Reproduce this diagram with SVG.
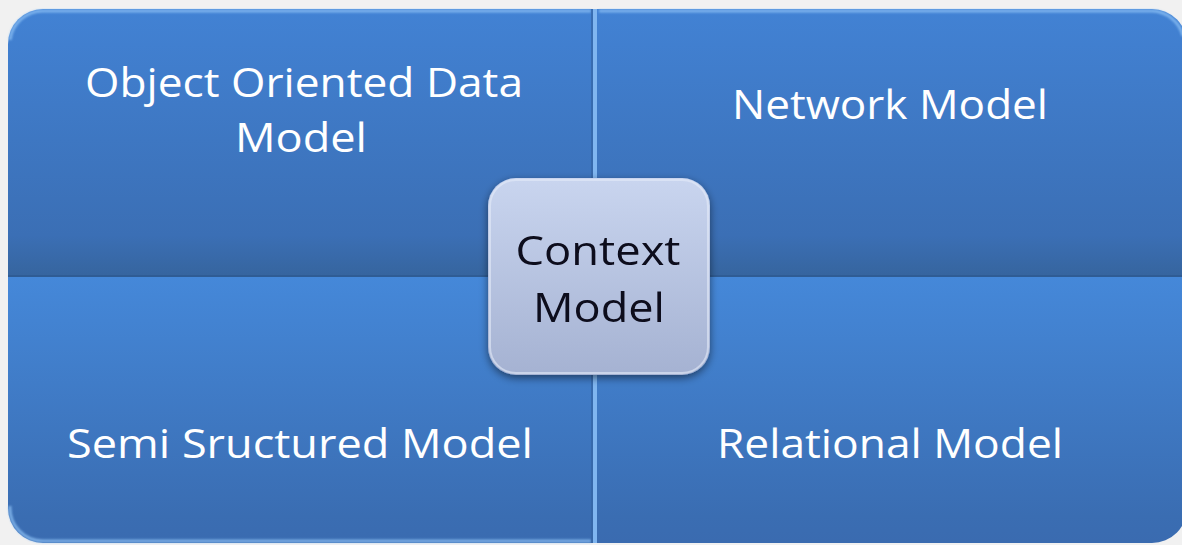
<svg xmlns="http://www.w3.org/2000/svg" width="1182" height="545" viewBox="0 0 1182 545">
  <defs>
    <linearGradient id="gTop" x1="0" y1="0" x2="0" y2="1">
      <stop offset="0" stop-color="#4282d4"/>
      <stop offset="0.85" stop-color="#3b6fb5"/>
      <stop offset="1" stop-color="#36659f"/>
    </linearGradient>
    <linearGradient id="gBot" x1="0" y1="0" x2="0" y2="1">
      <stop offset="0" stop-color="#4588d9"/>
      <stop offset="0.9" stop-color="#3a6db2"/>
      <stop offset="1" stop-color="#3a6bb0"/>
    </linearGradient>
    <linearGradient id="gCenter" x1="0" y1="0" x2="0" y2="1">
      <stop offset="0" stop-color="#c9d5ef"/>
      <stop offset="1" stop-color="#a5b2d2"/>
    </linearGradient>
    <filter id="shadow" x="-20%" y="-20%" width="140%" height="140%">
      <feGaussianBlur in="SourceAlpha" stdDeviation="4"/>
      <feOffset dx="0" dy="3" result="b"/>
      <feComponentTransfer><feFuncA type="linear" slope="0.5"/></feComponentTransfer>
      <feMerge><feMergeNode/><feMergeNode in="SourceGraphic"/></feMerge>
    </filter>
    <filter id="soft"><feGaussianBlur stdDeviation="1.2"/></filter>
  </defs>
  <style>
    .q { stroke: none; }
    .lbl { font-family: "Open Sans", "Noto Sans", "DejaVu Sans", sans-serif; font-size: 40px; fill: #ffffff; }
    .clbl { font-family: "Open Sans", "Noto Sans", "DejaVu Sans", sans-serif; font-size: 41px; fill: #0a0a1a; }
    .hl { fill: none; stroke: #8cc0f4; stroke-width: 3; opacity: 0.8; }
    .sh { fill: none; stroke: #2b5286; stroke-width: 3; opacity: 0.7; }
  </style>
  <rect width="1182" height="545" fill="#f1f1f1"/>

  <g id="connectors"/>

  <g id="node-object-oriented">
    <path class="q" fill="url(#gTop)" d="M8,44 A35,35 0 0 1 43,9 H593 V275 H8 Z"/>
    <path class="hl" d="M10,40 A33,33 0 0 1 43,11 H591" filter="url(#soft)"/>
    <path class="sh" d="M8,273 H593" filter="url(#soft)"/>
    <text class="lbl" x="304" y="97" text-anchor="middle" textLength="438" lengthAdjust="spacingAndGlyphs">Object Oriented Data</text>
    <text class="lbl" x="301" y="152" text-anchor="middle" textLength="132" lengthAdjust="spacingAndGlyphs">Model</text>
  </g>

  <g id="node-network">
    <path class="q" fill="url(#gTop)" d="M597,9 H1152 A35,35 0 0 1 1187,44 V275 H597 Z"/>
    <path class="hl" d="M599,11 H1152 A33,33 0 0 1 1183,36" filter="url(#soft)"/>
    <path class="sh" d="M597,273 H1187" filter="url(#soft)"/>
    <text class="lbl" x="890" y="119" text-anchor="middle" textLength="316" lengthAdjust="spacingAndGlyphs">Network Model</text>
  </g>

  <g id="node-semi-structured">
    <path class="q" fill="url(#gBot)" d="M8,277 H593 V543 H43 A35,35 0 0 1 8,508 Z"/>
    <path class="hl" d="M10,506 A33,33 0 0 0 43,541 H591" filter="url(#soft)"/>
    <text class="lbl" x="300" y="458" text-anchor="middle" textLength="466" lengthAdjust="spacingAndGlyphs">Semi Sructured Model</text>
  </g>

  <g id="node-relational">
    <path class="q" fill="url(#gBot)" d="M597,277 H1187 V508 A35,35 0 0 1 1152,543 H597 Z"/>
    <path class="hl" d="M599,541 H1152" filter="url(#soft)"/>
    <text class="lbl" x="890" y="458" text-anchor="middle" textLength="346" lengthAdjust="spacingAndGlyphs">Relational Model</text>
  </g>

  <g id="dividers">
    <rect x="593" y="9" width="4" height="534" fill="#80b6f0"/>
    <rect x="591" y="9" width="2" height="534" fill="#3465a4" opacity="0.7"/>
    <rect x="8" y="275" width="1179" height="2" fill="#2f5c94"/>
  </g>

  <g id="node-context" filter="url(#shadow)">
    <rect x="488" y="178" width="222" height="197" rx="28" ry="28" fill="url(#gCenter)"/>
    <rect x="490" y="180" width="218" height="193" rx="26" ry="26" fill="none" stroke="#e4ebf8" stroke-width="2" opacity="0.6"/>
    <text class="clbl" x="598" y="265" text-anchor="middle" textLength="165" lengthAdjust="spacingAndGlyphs">Context</text>
    <text class="clbl" x="599" y="322" text-anchor="middle" textLength="132" lengthAdjust="spacingAndGlyphs">Model</text>
  </g>
</svg>
